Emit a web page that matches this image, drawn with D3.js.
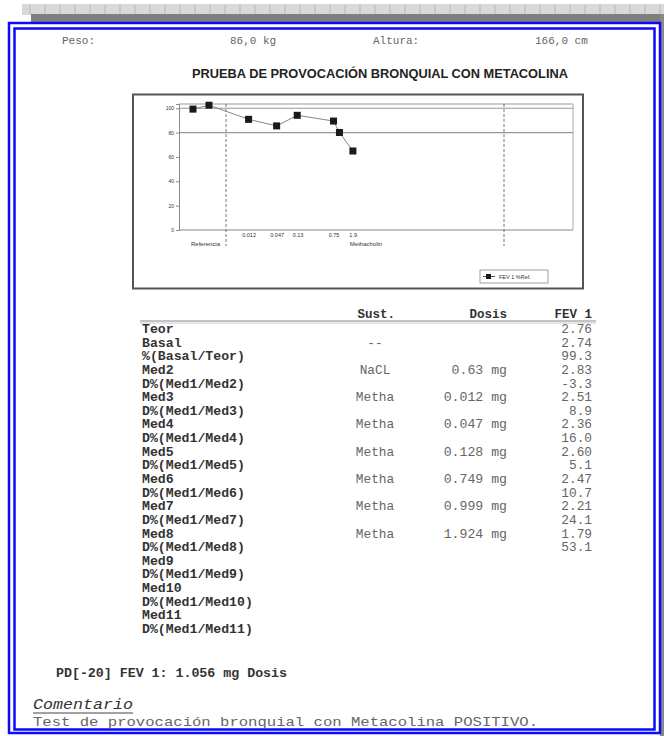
<!DOCTYPE html>
<html>
<head>
<meta charset="utf-8">
<script src="https://cdn.jsdelivr.net/npm/d3@7"></script>
<style>
  body { margin: 0; background: #fff; }
  svg { display: block; }
</style>
</head>
<body>
<div id="page"></div>
<script>
// patient header
var headerItems = ["Peso:", "86,0 kg", "Altura:", "166,0 cm"];
var chartTitle = "PRUEBA DE PROVOCACIÓN BRONQUIAL CON METACOLINA";

// chart series: FEV1 as % of reference
var refCategories = ["Basal", "Med2"];
var methaDoses = [0.012, 0.047, 0.128, 0.749, 0.999, 1.924];
var fevPctRef = [99.3, 102.5, 90.9, 85.5, 94.2, 89.5, 80.1, 64.9];
var yTicks = [0, 20, 40, 60, 80, 100];
var doseTicks = [0.012, 0.047, 0.13, 0.75, 1.9];
var refLines = [100, 80];
var legendLabel = "FEV 1 %Ref.";

// table
var tableHeaders = ["Sust.", "Dosis", "FEV 1"];
var rowLabels = ["Teor", "Basal", "%(Basal/Teor)", "Med2", "D%(Med1/Med2)", "Med3", "D%(Med1/Med3)",
  "Med4", "D%(Med1/Med4)", "Med5", "D%(Med1/Med5)", "Med6", "D%(Med1/Med6)", "Med7", "D%(Med1/Med7)",
  "Med8", "D%(Med1/Med8)", "Med9", "D%(Med1/Med9)", "Med10", "D%(Med1/Med10)", "Med11", "D%(Med1/Med11)"];
var rowSust = ["", "--", "", "NaCL", "", "Metha", "", "Metha", "", "Metha", "", "Metha", "", "Metha", "", "Metha"];
var rowDosis = ["", "", "", "0.63 mg", "", "0.012 mg", "", "0.047 mg", "", "0.128 mg", "", "0.749 mg", "", "0.999 mg", "", "1.924 mg"];
var rowFev = ["2.76", "2.74", "99.3", "2.83", "-3.3", "2.51", "8.9", "2.36", "16.0", "2.60", "5.1", "2.47", "10.7", "2.21", "24.1", "1.79", "53.1"];

var pdText = "PD[-20] FEV 1: 1.056 mg Dosis";
var commentTitle = "Comentario";
var commentText = "Test de provocación bronquial con Metacolina POSITIVO.";

var mono = "'Liberation Mono', 'Courier New', monospace";
var sans = "'Liberation Sans', Arial, sans-serif";

var svg = d3.select("#page").append("svg")
  .attr("width", 664)
  .attr("height", 736);

//--- window frame (gray ruler + blue double border)
svg.append("rect").attr("x", 22).attr("y", 4).attr("width", 642).attr("height", 11).attr("fill", "#d9d9d9");
svg.append("g").selectAll("line")
  .data(d3.range(30, 664, 15))
  .enter().append("line")
  .attr("x1", function(d) { return d; }).attr("x2", function(d) { return d; })
  .attr("y1", 5).attr("y2", 14)
  .attr("stroke", "#aaa").attr("stroke-width", 0.7);
svg.append("rect").attr("x", 31).attr("y", 14).attr("width", 633).attr("height", 9).attr("fill", "#7f7f7f");
svg.append("rect").attr("x", 660).attr("y", 14).attr("width", 4).attr("height", 722).attr("fill", "#8a8a8a");
svg.append("rect").attr("x", 9).attr("y", 23).attr("width", 651).attr("height", 710)
  .attr("fill", "#fff").attr("stroke", "#0a0aff").attr("stroke-width", 2.5);
svg.append("rect").attr("x", 14.5).attr("y", 28.5).attr("width", 640).attr("height", 701)
  .attr("fill", "none").attr("stroke", "#0a0aff").attr("stroke-width", 2.5);

//--- header line
var headerX = [62, 230, 373, 535];
svg.append("g").selectAll("text")
  .data(headerItems)
  .enter().append("text")
  .attr("x", function(d, i) { return headerX[i]; })
  .attr("y", 44)
  .attr("font-family", mono).attr("font-size", 11)
  .attr("fill", "#666")
  .text(function(d) { return d; });

svg.append("text")
  .attr("x", 380).attr("y", 78)
  .attr("text-anchor", "middle")
  .attr("font-family", sans).attr("font-size", 12.8).attr("font-weight", "bold")
  .attr("fill", "#222")
  .text(chartTitle);

//--- chart box
svg.append("rect").attr("x", 133).attr("y", 94.5).attr("width", 450).attr("height", 194)
  .attr("fill", "#fff").attr("stroke", "#555").attr("stroke-width", 2);

var plotLeft = 179, plotRight = 573, plotTop = 104, plotBottom = 230;
var refStart = 179, methaStart = 226, methaEnd = 504;

var y = d3.scaleLinear().domain([0, 103.5]).range([plotBottom, plotTop]);
var xRef = d3.scalePoint().domain(refCategories).range([193, 209]);
var xDose = d3.scaleLog().domain([0.004, 3000]).range([methaStart, methaEnd]);

var plot = svg.append("g");

// plot frame
plot.append("line").attr("x1", plotLeft).attr("x2", plotRight).attr("y1", plotTop).attr("y2", plotTop)
  .attr("stroke", "#999").attr("stroke-width", 1);
plot.append("line").attr("x1", plotRight).attr("x2", plotRight).attr("y1", plotTop).attr("y2", plotBottom)
  .attr("stroke", "#aaa").attr("stroke-width", 1);

// reference lines at 100 and 80
plot.selectAll(".refline")
  .data(refLines)
  .enter().append("line")
  .attr("class", "refline")
  .attr("x1", plotLeft).attr("x2", plotRight)
  .attr("y1", function(d) { return y(d); }).attr("y2", function(d) { return y(d); })
  .attr("stroke", "#999").attr("stroke-width", 1.1);

// y axis
var yAxis = d3.axisLeft(y).tickValues(yTicks).tickSize(3).tickPadding(2);
var yG = plot.append("g").attr("transform", "translate(" + plotLeft + ",0)").call(yAxis);
yG.select(".domain").attr("stroke", "#888");
yG.selectAll(".tick line").attr("stroke", "#888");
yG.selectAll("text").attr("font-family", sans).attr("font-size", 5).attr("fill", "#333");

// x axis line
plot.append("line").attr("x1", plotLeft).attr("x2", plotRight).attr("y1", plotBottom).attr("y2", plotBottom)
  .attr("stroke", "#888").attr("stroke-width", 1);

// dose tick labels (log scale)
var xAxis = d3.axisBottom(xDose).tickValues(doseTicks).tickSize(0).tickPadding(3)
  .tickFormat(function(d) { return String(d); });
var xG = plot.append("g").attr("transform", "translate(0," + plotBottom + ")").call(xAxis);
xG.select(".domain").remove();
xG.selectAll("text").attr("font-family", sans).attr("font-size", 5.5).attr("fill", "#333");

// section separators
plot.selectAll(".sep")
  .data([methaStart, methaEnd])
  .enter().append("line")
  .attr("class", "sep")
  .attr("x1", function(d) { return d; }).attr("x2", function(d) { return d; })
  .attr("y1", plotTop).attr("y2", 246)
  .attr("stroke", "#555").attr("stroke-width", 0.8).attr("stroke-dasharray", "3,2");

plot.append("text").attr("x", (refStart + methaStart) / 2 + 3).attr("y", 246)
  .attr("text-anchor", "middle").attr("font-family", sans).attr("font-size", 6).attr("fill", "#333")
  .text("Referencia");
plot.append("text").attr("x", 366).attr("y", 246)
  .attr("text-anchor", "middle").attr("font-family", sans).attr("font-size", 6).attr("fill", "#333")
  .text("Methacholin");

// points
var points = fevPctRef.map(function(v, i) {
  var px = i < refCategories.length ? xRef(refCategories[i]) : xDose(methaDoses[i - refCategories.length]);
  return [px, y(v)];
});
plot.append("path")
  .attr("d", d3.line()(points))
  .attr("fill", "none").attr("stroke", "#777").attr("stroke-width", 0.9);
plot.selectAll(".pt")
  .data(points)
  .enter().append("rect")
  .attr("class", "pt")
  .attr("x", function(d) { return d[0] - 3.5; })
  .attr("y", function(d) { return d[1] - 3.5; })
  .attr("width", 7).attr("height", 7)
  .attr("fill", "#1a1a1a");

// legend
var leg = svg.append("g").attr("transform", "translate(480,270)");
leg.append("rect").attr("width", 68).attr("height", 13).attr("fill", "#fff").attr("stroke", "#888").attr("stroke-width", 0.8);
leg.append("line").attr("x1", 3).attr("x2", 15).attr("y1", 6.5).attr("y2", 6.5).attr("stroke", "#555");
leg.append("rect").attr("x", 6).attr("y", 4).attr("width", 5).attr("height", 5).attr("fill", "#1a1a1a");
leg.append("text").attr("x", 19).attr("y", 8.8)
  .attr("font-family", sans).attr("font-size", 5.5).attr("fill", "#333").text(legendLabel);

//--- table
var rowY = d3.scalePoint().domain(d3.range(rowLabels.length)).range([333, 633]);
var tbl = svg.append("g");
var headerXs = [395, 507, 592];
tbl.selectAll(".th")
  .data(tableHeaders)
  .enter().append("text")
  .attr("class", "th")
  .attr("x", function(d, i) { return headerXs[i]; })
  .attr("y", 318)
  .attr("text-anchor", "end")
  .attr("font-family", mono).attr("font-size", 12.5).attr("font-weight", "bold")
  .attr("fill", "#333")
  .text(function(d) { return d; });
tbl.append("line").attr("x1", 140).attr("x2", 596).attr("y1", 321).attr("y2", 321).attr("stroke", "#888").attr("stroke-width", 1);
tbl.append("line").attr("x1", 140).attr("x2", 596).attr("y1", 323).attr("y2", 323).attr("stroke", "#bbb").attr("stroke-width", 0.8);

tbl.selectAll(".rl")
  .data(rowLabels)
  .enter().append("text")
  .attr("class", "rl")
  .attr("x", 142)
  .attr("y", function(d, i) { return rowY(i); })
  .attr("font-family", mono).attr("font-size", 13.2).attr("font-weight", "bold")
  .attr("fill", "#333")
  .text(function(d) { return d; });

tbl.selectAll(".rs")
  .data(rowSust)
  .enter().append("text")
  .attr("class", "rs")
  .attr("x", 375)
  .attr("y", function(d, i) { return rowY(i); })
  .attr("text-anchor", "middle")
  .attr("font-family", mono).attr("font-size", 12.8)
  .attr("fill", "#666")
  .text(function(d) { return d; });

tbl.selectAll(".rd")
  .data(rowDosis)
  .enter().append("text")
  .attr("class", "rd")
  .attr("x", 507)
  .attr("y", function(d, i) { return rowY(i); })
  .attr("text-anchor", "end")
  .attr("font-family", mono).attr("font-size", 13.2)
  .attr("fill", "#666")
  .text(function(d) { return d; });

tbl.selectAll(".rf")
  .data(rowFev)
  .enter().append("text")
  .attr("class", "rf")
  .attr("x", 592)
  .attr("y", function(d, i) { return rowY(i); })
  .attr("text-anchor", "end")
  .attr("font-family", mono).attr("font-size", 12.8)
  .attr("fill", "#666")
  .text(function(d) { return d; });

//--- footer
svg.append("text").attr("x", 56).attr("y", 677)
  .attr("font-family", mono).attr("font-size", 12).attr("font-weight", "bold").attr("fill", "#333")
  .attr("textLength", 231).attr("lengthAdjust", "spacingAndGlyphs")
  .text(pdText);
svg.append("text").attr("x", 33).attr("y", 709)
  .attr("font-family", mono).attr("font-size", 14).attr("font-style", "italic").attr("fill", "#333")
  .attr("textLength", 100).attr("lengthAdjust", "spacingAndGlyphs")
  .text(commentTitle);
svg.append("line").attr("x1", 33).attr("x2", 133).attr("y1", 713).attr("y2", 713).attr("stroke", "#444").attr("stroke-width", 1);
svg.append("text").attr("x", 33).attr("y", 726)
  .attr("font-family", mono).attr("font-size", 13.5).attr("fill", "#666")
  .attr("textLength", 505).attr("lengthAdjust", "spacingAndGlyphs")
  .text(commentText);
</script>
</body>
</html>
